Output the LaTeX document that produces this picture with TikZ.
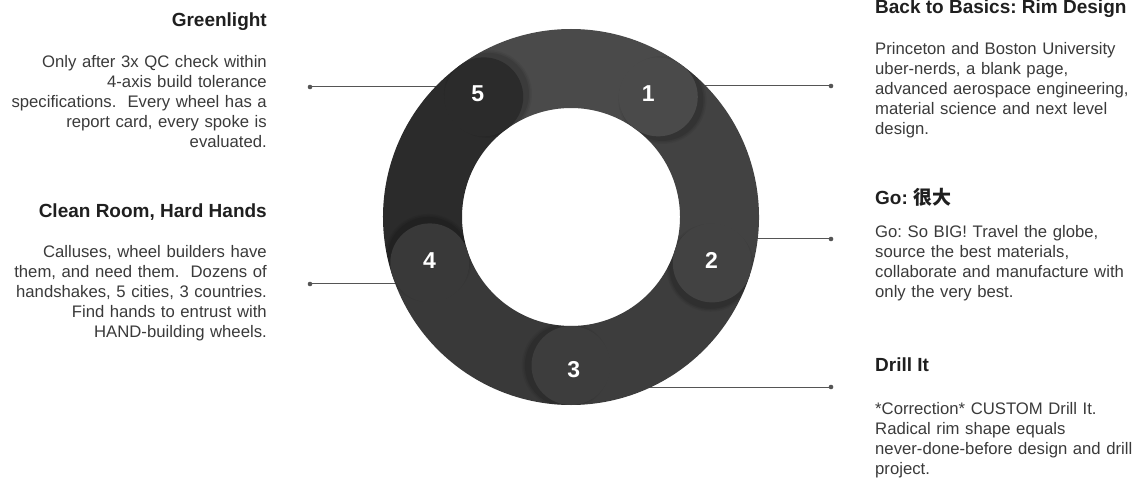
\documentclass[tikz,border=0pt]{standalone}
\usepackage{fontspec}
\setmainfont{Liberation Sans}
\newfontfamily\cjk{Noto Sans CJK SC}
\usetikzlibrary{positioning}
\frenchspacing

\definecolor{segone}{HTML}{4A4A4A}
\definecolor{segtwo}{HTML}{424242}
\definecolor{segthree}{HTML}{3D3D3D}
\definecolor{segfour}{HTML}{393939}
\definecolor{segfive}{HTML}{2B2B2B}
\definecolor{leadclr}{HTML}{555555}
\definecolor{bodyclr}{HTML}{3A3A3A}

\tikzset{
	leader/.style={draw=leadclr, line width=1pt},
	headtext/.style={inner sep=0, text=black!88, font=\bfseries\fontsize{19}{20}\selectfont},
	bodytext/.style={inner sep=0, text=bodyclr, text width=300pt, font=\fontsize{16.7}{20}\selectfont},
	seglabel/.style={text=white, font=\bfseries\fontsize{23}{23}\selectfont}
}

\begin{document}
\begin{tikzpicture}[
			x=1pt,
			y=1pt,
			line cap=round,
			line join=round
			]
			\useasboundingbox (0,0) rectangle (1140,485);
			
			% Leaders, drawn first so that the ring covers their inner ends
			\coordinate (ring) at (571,268);
			\coordinate (in1) at (680,399);
			\coordinate (out1) at (831,399);
			\coordinate (in2) at (720,246);
			\coordinate (out2) at (831,246);
			\coordinate (in3) at (620,98);
			\coordinate (out3) at (831,98);
			\coordinate (in4) at (440,201);
			\coordinate (out4) at (310,201);
			\coordinate (in5) at (470,398);
			\coordinate (out5) at (310,398);
			\foreach \i in {1,...,5}
			{
				\draw[leader] (in\i) -- (out\i);
				\fill[leadclr] (out\i) circle[radius=2.3];
			}
			
			\begin{scope}[shift={(ring)}]
				% Ring pieces between the cap centres
				\foreach \a/\b/\c in {126/54/segone, 54/-18/segtwo, -18/-90/segthree, -90/-162/segfour, -162/-234/segfive}
				{
					\fill[\c] (\a:109) arc[start angle=\a, end angle=\b, radius=109]
					-- (\b:188) arc[start angle=\b, end angle=\a, radius=188] -- cycle;
				}
				
				% Rounded ends with a soft shadow on the next piece
				\begin{scope}[even odd rule]
					\clip (0,0) circle[radius=188] (0,0) circle[radius=109];
					\foreach \b/\c in {54/segone, -18/segtwo, -90/segthree, -162/segfour, 126/segfive}
					{
						\foreach \r/\o in {44/0.05, 42.5/0.07, 41/0.09}
						\fill[black, opacity=\o] (\b-2:148.5) circle[radius=\r];
						\fill[\c] (\b:148.5) circle[radius=39.5];
					}
				\end{scope}
				
				% Step numbers
				\foreach \i/\la/\lr in {1/58/146, 2/-17/147, 3/-89/153, 4/197/148, 5/127/155}
				\node[seglabel] (n\i) at (\la:\lr) {\i};
			\end{scope}
			
			% Left texts
			\node[headtext, anchor=base east] (greenlight) at (267,458) {Greenlight};
			\node[bodytext, align=right, anchor=base east] (greenlighttext) at (267,417)
			{Only after 3x QC check within\\
				4-axis build tolerance\\
				specifications.~ Every wheel has a\\
				report card, every spoke is\\
				evaluated.};
			
			\node[headtext, anchor=base east] (cleanroom) at (267,267) {Clean Room, Hard Hands};
			\node[bodytext, align=right, anchor=base east] (cleanroomtext) at (267,227)
			{Calluses, wheel builders have\\
				them, and need them.~ Dozens of\\
				handshakes, 5 cities, 3 countries.\\
				Find hands to entrust with\\
				HAND-building wheels.};
			
			% Right texts
			\node[headtext, anchor=base west] (basics) at (875,471) {Back to Basics: Rim Design};
			\node[bodytext, align=left, anchor=base west] (basicstext) at (875,430)
			{Princeton and Boston University\\
				uber-nerds, a blank page,\\
				advanced aerospace engineering,\\
				material science and next level\\
				design.};
			
			\node[headtext, anchor=base west] (go) at (875,280) {Go: {\cjk 很大}};
			\node[bodytext, align=left, anchor=base west] (gotext) at (875,247)
			{Go: So BIG! Travel the globe,\\
				source the best materials,\\
				collaborate and manufacture with\\
				only the very best.};
			
			\node[headtext, anchor=base west] (drill) at (875,114) {Drill It};
			\node[bodytext, align=left, anchor=base west] (drilltext) at (875,71)
			{*Correction* CUSTOM Drill It.\\
				Radical rim shape equals\\
				never-done-before design and drill\\
				project.};
		\end{tikzpicture}
\end{document}
